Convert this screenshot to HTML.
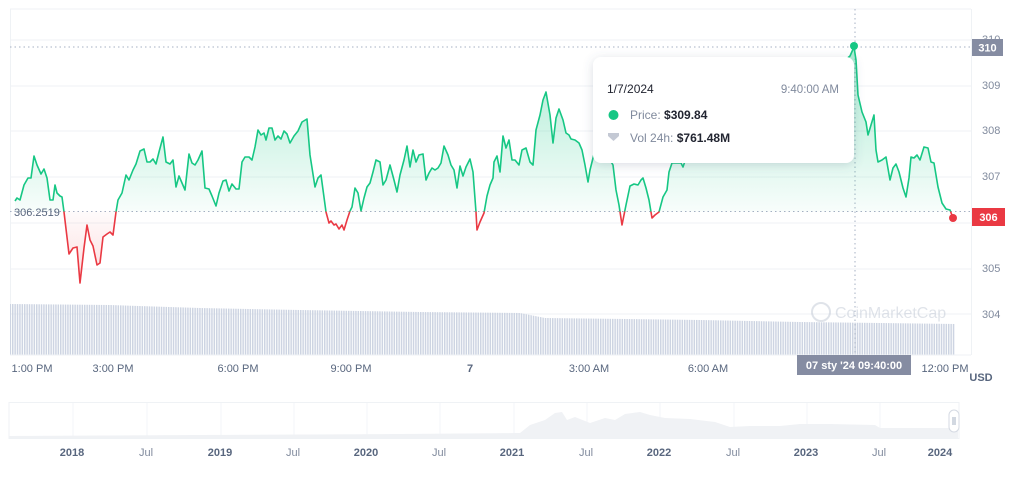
<!DOCTYPE html>
<html><head><meta charset="utf-8"><style>
html,body{margin:0;padding:0;background:#fff;}
body{width:1013px;height:478px;overflow:hidden;position:relative;font-family:"Liberation Sans",sans-serif;}
</style></head><body>
<svg width="1013" height="478" viewBox="0 0 1013 478" xmlns="http://www.w3.org/2000/svg" style="position:absolute;left:0;top:0">
<defs>
<linearGradient id="gg" gradientUnits="userSpaceOnUse" x1="0" y1="40" x2="0" y2="212">
<stop offset="0" stop-color="#16c784" stop-opacity="0.38"/><stop offset="1" stop-color="#16c784" stop-opacity="0.03"/></linearGradient>
<linearGradient id="rg" gradientUnits="userSpaceOnUse" x1="0" y1="212" x2="0" y2="285">
<stop offset="0" stop-color="#ea3943" stop-opacity="0.02"/><stop offset="1" stop-color="#ea3943" stop-opacity="0.18"/></linearGradient>
<clipPath id="top"><rect x="0" y="0" width="1013" height="211.5"/></clipPath>
<clipPath id="bot"><rect x="0" y="211.5" width="1013" height="200"/></clipPath>
<pattern id="bars" width="2.4" height="10" patternUnits="userSpaceOnUse"><rect x="0" y="0" width="1.5" height="10" fill="#cdd4e2"/></pattern>
<filter id="sh" x="-10%" y="-20%" width="120%" height="150%"><feDropShadow dx="0" dy="2" stdDeviation="5" flood-color="#58667e" flood-opacity="0.22"/></filter>
</defs>
<g stroke="#eff2f5" stroke-width="1">
<line x1="10" y1="9" x2="971" y2="9"/>
<line x1="10" y1="40" x2="971" y2="40"/><line x1="10" y1="86" x2="971" y2="86"/><line x1="10" y1="131" x2="971" y2="131"/><line x1="10" y1="177" x2="971" y2="177"/><line x1="10" y1="223" x2="971" y2="223"/><line x1="10" y1="269" x2="971" y2="269"/><line x1="10" y1="314" x2="971" y2="314"/>
<line x1="10.5" y1="9" x2="10.5" y2="355"/><line x1="971.5" y1="9" x2="971.5" y2="355"/>
</g>
<polygon points="10,304 110,305 200,308 300,310 420,312 520,313 545,318 700,320 800,322 955,324 955,355 10,355" fill="url(#bars)"/>
<line x1="10" y1="355" x2="971" y2="355" stroke="#eff2f5"/>
<g opacity="0.35"><circle cx="821" cy="312" r="9" fill="none" stroke="#a6b0c3" stroke-width="2"/><text x="835" y="318" font-size="16" fill="#a6b0c3">CoinMarketCap</text></g>
<line x1="10" y1="47" x2="971" y2="47" stroke="#a6b0c3" stroke-dasharray="1.5 3"/>
<line x1="10" y1="211.5" x2="971" y2="211.5" stroke="#a6b0c3" stroke-dasharray="1.5 3"/>
<line x1="855" y1="9" x2="855" y2="356" stroke="#a6b0c3" stroke-dasharray="1.5 3"/>
<g id="series">
<path id="ln" d="M15,201 L17,198 L20,200 L24,185 L28,178 L31,178 L34,156 L37,165 L41,174 L44,169 L47,178 L50,200 L53,200 L55,185 L57,193 L60,196 L62,197 L64,212 L69,254 L73,248 L77,247 L80,283 L84,248 L87,225 L90,240 L93,246 L97,265 L100,263 L103,237 L107,234 L110,232 L113,235 L116,212 L118,200 L122,193 L126,175 L129,180 L133,170 L136,164 L140,151 L144,149 L147,162 L150,162 L153,159 L156,164 L159,152 L163,137 L166,162 L170,164 L173,160 L176,187 L179,176 L182,183 L185,190 L189,154 L192,163 L195,165 L198,160 L202,151 L205,188 L209,189 L212,196 L216,206 L219,193 L223,181 L226,180 L229,191 L232,184 L236,189 L239,189 L242,162 L245,157 L249,157 L252,160 L255,147 L258,130 L261,135 L264,133 L266,140 L269,128 L272,128 L275,140 L278,136 L281,139 L284,131 L287,134 L290,143 L294,136 L298,131 L302,122 L307,119 L310,155 L315,187 L318,178 L321,175 L326,212 L329,223 L331,221 L334,225 L336,224 L339,229 L342,225 L344,230 L347,220 L350,211 L352,207 L355,188 L358,193 L361,211 L364,198 L367,187 L370,183 L373,172 L376,160 L380,162 L383,185 L386,180 L390,165 L394,180 L397,192 L400,175 L404,160 L407,146 L410,167 L413,150 L416,162 L419,155 L423,154 L426,180 L429,173 L432,168 L435,170 L438,168 L441,163 L444,146 L448,155 L451,165 L454,170 L457,188 L460,166 L463,176 L466,167 L470,159 L473,172 L476,212 L477,230 L480,222 L484,213 L487,196 L490,185 L493,178 L494,162 L497,156 L500,172 L503,136 L506,148 L509,140 L512,160 L515,160 L519,165 L522,150 L526,148 L530,162 L533,165 L536,130 L540,115 L543,100 L546,92 L550,115 L553,143 L556,118 L559,109 L563,120 L566,133 L569,135 L571,139 L575,140 L579,143 L582,150 L585,165 L588,182 L590,170 L595,150 L600,140 L605,150 L610,160 L613,165 L616,190 L619,205 L622,225 L626,205 L630,186 L634,184 L638,185 L641,180 L643,178 L646,188 L649,200 L652,218 L655,215 L659,212 L663,197 L667,190 L669,172 L672,163 L681,163 L683,167 L686,158 L692,140 L700,130 L710,120 L720,128 L730,110 L740,115 L750,100 L760,108 L770,95 L780,100 L790,85 L800,90 L810,78 L820,82 L830,70 L835,65 L840,62 L845,60 L850,56 L854,47 L856,60 L858,95 L862,112 L866,122 L868,135 L871,125 L874,115 L876,150 L878,162 L882,160 L886,157 L890,180 L893,168 L896,164 L899,172 L903,188 L906,197 L909,178 L911,157 L914,158 L917,155 L920,160 L924,147 L928,148 L931,162 L934,163 L938,187 L942,203 L946,209 L950,210 L953,218" fill="none"/>
</g>
<g clip-path="url(#top)">
<path d="M15,211.5 L15,201 L17,198 L20,200 L24,185 L28,178 L31,178 L34,156 L37,165 L41,174 L44,169 L47,178 L50,200 L53,200 L55,185 L57,193 L60,196 L62,197 L64,212 L69,254 L73,248 L77,247 L80,283 L84,248 L87,225 L90,240 L93,246 L97,265 L100,263 L103,237 L107,234 L110,232 L113,235 L116,212 L118,200 L122,193 L126,175 L129,180 L133,170 L136,164 L140,151 L144,149 L147,162 L150,162 L153,159 L156,164 L159,152 L163,137 L166,162 L170,164 L173,160 L176,187 L179,176 L182,183 L185,190 L189,154 L192,163 L195,165 L198,160 L202,151 L205,188 L209,189 L212,196 L216,206 L219,193 L223,181 L226,180 L229,191 L232,184 L236,189 L239,189 L242,162 L245,157 L249,157 L252,160 L255,147 L258,130 L261,135 L264,133 L266,140 L269,128 L272,128 L275,140 L278,136 L281,139 L284,131 L287,134 L290,143 L294,136 L298,131 L302,122 L307,119 L310,155 L315,187 L318,178 L321,175 L326,212 L329,223 L331,221 L334,225 L336,224 L339,229 L342,225 L344,230 L347,220 L350,211 L352,207 L355,188 L358,193 L361,211 L364,198 L367,187 L370,183 L373,172 L376,160 L380,162 L383,185 L386,180 L390,165 L394,180 L397,192 L400,175 L404,160 L407,146 L410,167 L413,150 L416,162 L419,155 L423,154 L426,180 L429,173 L432,168 L435,170 L438,168 L441,163 L444,146 L448,155 L451,165 L454,170 L457,188 L460,166 L463,176 L466,167 L470,159 L473,172 L476,212 L477,230 L480,222 L484,213 L487,196 L490,185 L493,178 L494,162 L497,156 L500,172 L503,136 L506,148 L509,140 L512,160 L515,160 L519,165 L522,150 L526,148 L530,162 L533,165 L536,130 L540,115 L543,100 L546,92 L550,115 L553,143 L556,118 L559,109 L563,120 L566,133 L569,135 L571,139 L575,140 L579,143 L582,150 L585,165 L588,182 L590,170 L595,150 L600,140 L605,150 L610,160 L613,165 L616,190 L619,205 L622,225 L626,205 L630,186 L634,184 L638,185 L641,180 L643,178 L646,188 L649,200 L652,218 L655,215 L659,212 L663,197 L667,190 L669,172 L672,163 L681,163 L683,167 L686,158 L692,140 L700,130 L710,120 L720,128 L730,110 L740,115 L750,100 L760,108 L770,95 L780,100 L790,85 L800,90 L810,78 L820,82 L830,70 L835,65 L840,62 L845,60 L850,56 L854,47 L856,60 L858,95 L862,112 L866,122 L868,135 L871,125 L874,115 L876,150 L878,162 L882,160 L886,157 L890,180 L893,168 L896,164 L899,172 L903,188 L906,197 L909,178 L911,157 L914,158 L917,155 L920,160 L924,147 L928,148 L931,162 L934,163 L938,187 L942,203 L946,209 L950,210 L953,218 L953,211.5 Z" fill="url(#gg)"/>
<use href="#ln" stroke="#16c784" stroke-width="1.6" stroke-linejoin="round"/>
</g>
<g clip-path="url(#bot)">
<path d="M64,211.5 L64,212 L69,254 L73,248 L77,247 L80,283 L84,248 L87,225 L90,240 L93,246 L97,265 L100,263 L103,237 L107,234 L110,232 L113,235 L116,212 L116,211.5 Z" fill="url(#rg)"/>
<use href="#ln" stroke="#ea3943" stroke-width="1.6" stroke-linejoin="round"/>
</g>
<circle cx="854" cy="46" r="4" fill="#16c784"/>
<circle cx="953" cy="218" r="4" fill="#ea3943"/>
<rect x="593" y="57" width="261" height="106" rx="8" fill="#fff" filter="url(#sh)"/>
<text x="607" y="93" font-size="12" fill="#222531">1/7/2024</text>
<text x="839" y="93" font-size="11.5" fill="#808a9d" text-anchor="end">9:40:00 AM</text>
<circle cx="613.5" cy="115" r="5" fill="#16c784"/>
<text x="630" y="119" font-size="12" fill="#808a9d">Price: <tspan fill="#222531" font-weight="bold">$309.84</tspan></text>
<path d="M608,133 L619,133 L619,136 L613.5,141 L608,136 Z" fill="#c4c9d4"/>
<text x="630" y="142" font-size="12" fill="#808a9d">Vol 24h: <tspan fill="#222531" font-weight="bold">$761.48M</tspan></text>
<g font-size="11" fill="#808a9d">
<text x="982" y="43">310</text>
<text x="982" y="89">309</text>
<text x="982" y="134">308</text>
<text x="982" y="180">307</text>
<text x="982" y="272">305</text>
<text x="982" y="318">304</text>
</g>
<rect x="972" y="39" width="31" height="17" fill="#858ca2"/>
<text x="987.5" y="51.5" font-size="11" fill="#fff" text-anchor="middle" font-weight="bold">310</text>
<rect x="972" y="208" width="33" height="18" fill="#ea3943"/>
<text x="988.5" y="221" font-size="11" fill="#fff" text-anchor="middle" font-weight="bold">306</text>
<text x="14" y="216" font-size="11" fill="#58667e">306.2519</text>
<g font-size="11" fill="#58667e" text-anchor="middle">
<text x="32" y="372">1:00 PM</text>
<text x="113" y="372">3:00 PM</text>
<text x="238" y="372">6:00 PM</text>
<text x="351" y="372">9:00 PM</text>
<text x="470" y="372" font-weight="bold">7</text>
<text x="589" y="372">3:00 AM</text>
<text x="708" y="372">6:00 AM</text>
<text x="945" y="372">12:00 PM</text>
</g>
<rect x="797" y="355" width="114" height="20" fill="#858ca2"/>
<text x="854" y="369" font-size="11" fill="#fff" text-anchor="middle" font-weight="bold">07 sty '24  09:40:00</text>
<text x="981" y="381" font-size="11" fill="#58667e" font-weight="bold" text-anchor="middle">USD</text>
<rect x="9" y="402.5" width="950" height="36" fill="#fff" stroke="#eff2f5"/>
<g stroke="#f3f5f8"><line x1="73" y1="403" x2="73" y2="438"/><line x1="147" y1="403" x2="147" y2="438"/><line x1="221" y1="403" x2="221" y2="438"/><line x1="294" y1="403" x2="294" y2="438"/><line x1="367" y1="403" x2="367" y2="438"/><line x1="440" y1="403" x2="440" y2="438"/><line x1="514" y1="403" x2="514" y2="438"/><line x1="587" y1="403" x2="587" y2="438"/><line x1="660" y1="403" x2="660" y2="438"/><line x1="734" y1="403" x2="734" y2="438"/><line x1="807" y1="403" x2="807" y2="438"/><line x1="880" y1="403" x2="880" y2="438"/></g>
<path d="M9,436 L200,435 L400,434 L520,433 L530,425 L545,420 L555,413 L562,412 L567,420 L575,417 L590,423 L605,418 L615,420 L625,414 L640,412 L650,415 L665,418 L690,419 L715,422 L730,427 L750,426 L780,426 L800,424 L830,424 L875,425 L880,428 L958,428 L958,438 L9,438 Z" fill="#f0f2f5"/>
<rect x="949" y="410" width="10" height="22" rx="5" fill="#fff" stroke="#d5dae3"/>
<line x1="953" y1="417" x2="953" y2="425" stroke="#a6b0c3"/><line x1="955" y1="417" x2="955" y2="425" stroke="#a6b0c3"/>
<g font-size="11" fill="#808a9d" text-anchor="middle">
<text x="72" y="456" font-weight="bold" fill="#58667e">2018</text><text x="146" y="456">Jul</text>
<text x="220" y="456" font-weight="bold" fill="#58667e">2019</text><text x="293" y="456">Jul</text>
<text x="366" y="456" font-weight="bold" fill="#58667e">2020</text><text x="439" y="456">Jul</text>
<text x="512" y="456" font-weight="bold" fill="#58667e">2021</text><text x="586" y="456">Jul</text>
<text x="659" y="456" font-weight="bold" fill="#58667e">2022</text><text x="733" y="456">Jul</text>
<text x="806" y="456" font-weight="bold" fill="#58667e">2023</text><text x="879" y="456">Jul</text>
<text x="940" y="456" font-weight="bold" fill="#58667e">2024</text>
</g>
</svg>
</body></html>
